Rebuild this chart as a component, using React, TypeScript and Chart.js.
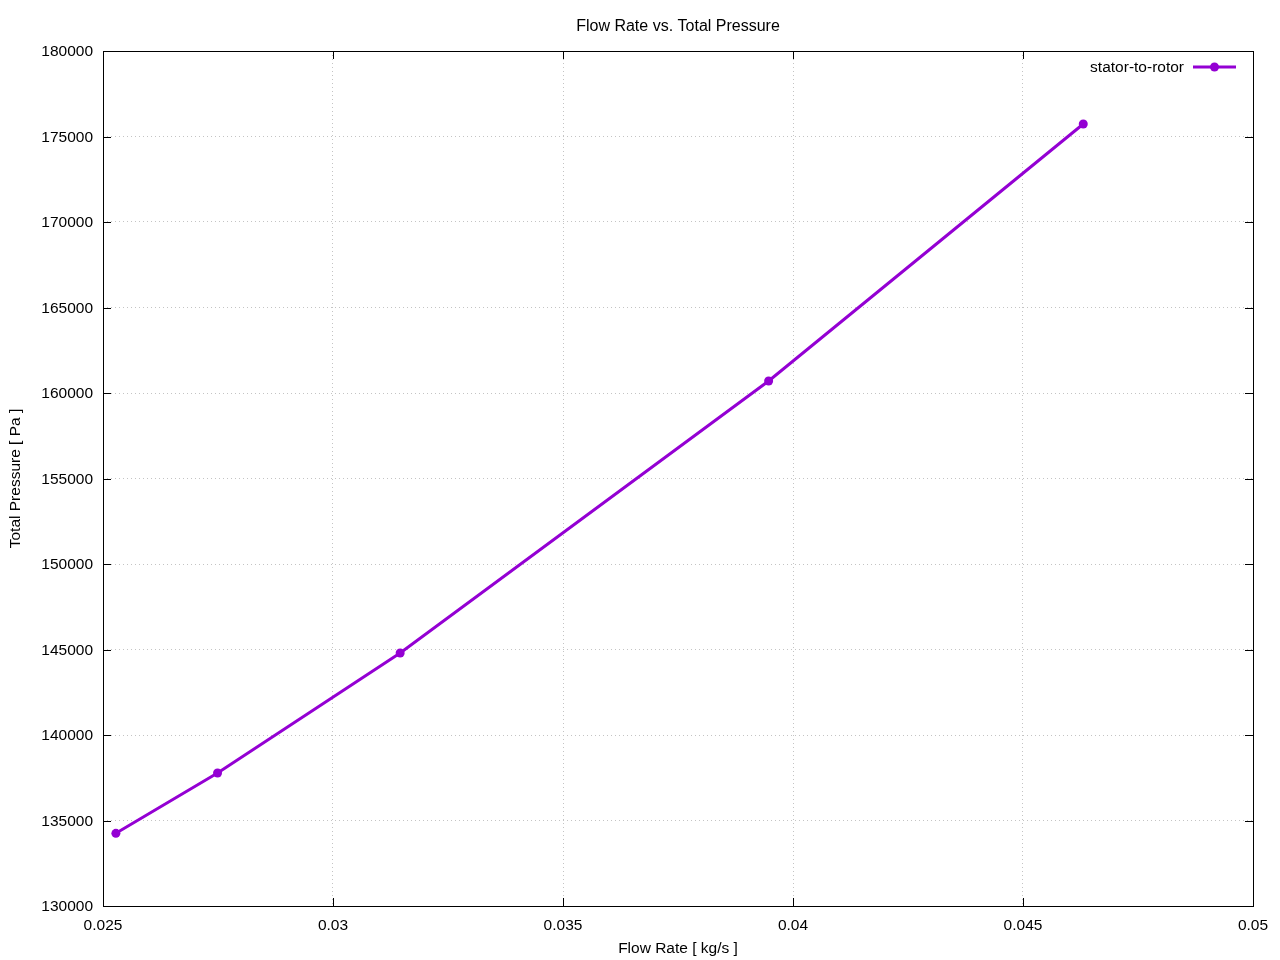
import React, { useEffect, useRef } from "react";
import { Chart, registerables } from "chart.js";

Chart.register(...registerables);

const flowRate = [0.02528, 0.02749, 0.03146, 0.03947, 0.04631];
const totalPressure = [134250, 137780, 144795, 160700, 175730];
const seriesLabel = "stator-to-rotor";
const chartTitle = "Flow Rate vs. Total Pressure";
const xTitle = "Flow Rate [ kg/s ]";
const yTitle = "Total Pressure [ Pa ]";
const xMin = 0.025, xMax = 0.05, xStep = 0.005;
const yMin = 130000, yMax = 180000, yStep = 5000;

const COLOR = "#9400d3";
const FONT = "'Liberation Sans', Arial, sans-serif";
const FS = 15.5;

const decor = {
  id: "decor",
  afterDraw(chart: any) {
    const { ctx, chartArea: a, scales } = chart;
    ctx.save();
    ctx.strokeStyle = "#000";
    ctx.lineWidth = 1;
    ctx.strokeRect(Math.round(a.left) + 0.5, Math.round(a.top) + 0.5, Math.round(a.right - a.left), Math.round(a.bottom - a.top));
    const tl = 8;
    ctx.beginPath();
    scales.x.ticks.forEach((t: any) => {
      const x = Math.round(scales.x.getPixelForValue(t.value)) + 0.5;
      ctx.moveTo(x, a.bottom); ctx.lineTo(x, a.bottom - tl);
      ctx.moveTo(x, a.top); ctx.lineTo(x, a.top + tl);
    });
    scales.y.ticks.forEach((t: any) => {
      const y = Math.round(scales.y.getPixelForValue(t.value)) + 0.5;
      ctx.moveTo(a.left, y); ctx.lineTo(a.left + tl, y);
      ctx.moveTo(a.right, y); ctx.lineTo(a.right - tl, y);
    });
    ctx.stroke();
    ctx.fillStyle = "#000";
    ctx.textAlign = "center";
    ctx.textBaseline = "middle";
    const cx = (a.left + a.right) / 2;
    ctx.font = `16px ${FONT}`;
    ctx.fillText(chartTitle, cx, 27);
    ctx.font = `${FS}px ${FONT}`;
    ctx.fillText(xTitle, cx, 949);
    ctx.save();
    ctx.translate(16, (a.top + a.bottom) / 2);
    ctx.rotate(-Math.PI / 2);
    ctx.fillText(yTitle, 0, 0);
    ctx.restore();
    ctx.textAlign = "right";
    ctx.fillText(seriesLabel, 1184, 68);
    ctx.strokeStyle = COLOR;
    ctx.lineWidth = 3;
    ctx.beginPath();
    ctx.moveTo(1193, 67); ctx.lineTo(1236, 67);
    ctx.stroke();
    ctx.fillStyle = COLOR;
    ctx.beginPath();
    ctx.arc(1214.5, 67, 4.5, 0, Math.PI * 2);
    ctx.fill();
    ctx.restore();
  },
};

export default function App() {
  const ref = useRef<HTMLCanvasElement | null>(null);
  useEffect(() => {
    if (!ref.current) return;
    const chart = new Chart(ref.current, {
      type: "line",
      data: {
        datasets: [
          {
            label: seriesLabel,
            data: flowRate.map((x, i) => ({ x, y: totalPressure[i] })),
            borderColor: COLOR,
            backgroundColor: COLOR,
            borderWidth: 3,
            pointRadius: 4.5,
            pointBorderWidth: 0,
            pointBackgroundColor: COLOR,
            tension: 0,
            fill: false,
          },
        ],
      },
      options: {
        responsive: false,
        animation: false,
        devicePixelRatio: 1,
        layout: { padding: { left: 0, right: 27, top: 51, bottom: 0 } },
        plugins: {
          legend: { display: false },
          title: { display: false },
          tooltip: { enabled: false },
        },
        scales: {
          x: {
            type: "linear",
            min: xMin,
            max: xMax,
            afterFit: (s: any) => { s.height = 54; },
            ticks: {
              stepSize: xStep,
              color: "#000",
              padding: 10,
              maxRotation: 0,
              font: { family: FONT, size: FS },
              callback: (v: any) => String(Number(Number(v).toFixed(4))),
            },
            grid: {
              color: "#c4c4c4",
              drawTicks: false,
            },
            border: { display: false, dash: [1, 3] },
          },
          y: {
            type: "linear",
            min: yMin,
            max: yMax,
            afterFit: (s: any) => { s.width = 103; },
            ticks: {
              stepSize: yStep,
              color: "#000",
              padding: 10,
              labelOffset: 1,
              font: { family: FONT, size: FS },
              callback: (v: any) => String(v),
            },
            grid: {
              color: "#c4c4c4",
              drawTicks: false,
            },
            border: { display: false, dash: [1, 3] },
          },
        },
      },
      plugins: [decor],
    });
    return () => chart.destroy();
  }, []);
  return (
    <div style={{ position: "absolute", left: 0, top: 0, width: 1280, height: 960, background: "#fff" }}>
      <canvas ref={ref} width={1280} height={960} style={{ display: "block" }} />
    </div>
  );
}
